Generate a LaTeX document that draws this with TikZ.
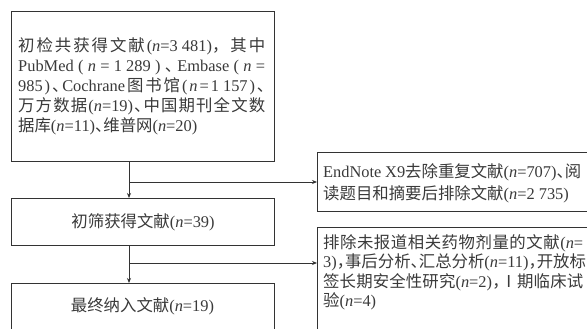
\documentclass[tikz,border=0pt]{standalone}
\usepackage{fontspec}
\setmainfont{Liberation Serif}
\newfontfamily\cjk{Noto Sans CJK SC}
\newcommand\zh[1]{{\cjk #1}}
\makeatletter
\def\zz#1{{\cjk\zz@#1\zz@end}}
\def\zz@#1{\ifx#1\zz@end\else#1\hskip0pt plus 1fil\expandafter\zz@\fi}
\makeatother
\newcommand\g{\hskip0pt plus 1fil\relax}
\newcommand\jl[2]{\hbox to #1{#2\unskip}}
\newcommand\dun{\makebox[.5em][l]{\zh{、}}}
\newcommand\dou{\makebox[.5em][l]{\zh{，}}}
\newcommand\nn{\textit{n}}
\newcommand\ts{\hspace{.25em}}
\usetikzlibrary{arrows.meta}
\definecolor{linec}{HTML}{333333}
\definecolor{textc}{HTML}{3A3A3A}
\begin{document}
\begin{tikzpicture}[x=1pt,y=-1pt,
  box/.style={draw=linec, line width=1.1pt, inner sep=0pt, anchor=north west, text=textc,
    font=\fontsize{16.4}{19}\selectfont},
  txt/.style={text=textc, inner sep=0pt, align=left, anchor=west},
  conn/.style={draw=linec, line width=1pt},
  arr/.style={conn, -{Stealth[length=5pt,width=4pt]}}]
\useasboundingbox (0,0) rectangle (587,329);
\clip (0,0) rectangle (587,329);
\fill[white] (0,0) rectangle (587,329);
% boxes
\node[box, minimum width=263pt, minimum height=150pt] (b1) at (11,11) {};
\node[box, minimum width=263pt, minimum height=47pt] (b2) at (11,198) {\zh{初筛获得文献}(\nn=39)};
\node[box, minimum width=263pt, minimum height=52pt] (b3) at (11,283) {};
\node[box, minimum width=290pt, minimum height=59pt] (b4) at (317,152) {};
\node[box, minimum width=290pt, minimum height=115pt] (b5) at (317,227) {};
% texts
\node[txt, font=\fontsize{16.4}{20}\selectfont] (t1) at (18,86) {%
\jl{247pt}{\zz{初检共获得文献}(\nn=3\ts481)\zz{，其中}}\\
\jl{247pt}{PubMed\g(\g\nn\g=\g1\ts289\g)\g\dun\g Embase\g(\g\nn\g=}\\
\jl{247pt}{985\g)\g\dun\g Cochrane\g\zz{图书馆}(\g\nn\g=\g1\ts157\g)\g\dun}\\
\jl{247pt}{\zz{万方数据}(\nn=19)\g\dun\g\zz{中国期刊全文数}}\\
\zh{据库}(\nn=11)\dun\zh{维普网}(\nn=20)};
\node[txt, anchor=center, font=\fontsize{16.4}{19}\selectfont] (t3) at (142.5,306) {\zh{最终纳入文献}(\nn=19)};
\node[txt, font=\fontsize{16.4}{22.5}\selectfont] (t4) at (323,183.5) {%
\jl{258pt}{EndNote X9\g\zz{去除重复文献}(\nn=707)\g\dun\g\zh{阅}}\\
\zh{读题目和摘要后排除文献}(\nn=2\ts735)};
\node[txt, font=\fontsize{16.4}{19.5}\selectfont] (t5) at (323,272.5) {%
\jl{260pt}{\zz{排除未报道相关药物剂量的文献}(\nn=}\\
\jl{260pt}{3)\g\dou\g\zz{事后分析}\dun\g\zz{汇总分析}(\nn=11)\g\dou\g\zz{开放标}}\\
\jl{260pt}{\zz{签长期安全性研究}(\nn=2)\g\dou\g\zz{Ⅰ期临床试}}\\
\zh{验}(\nn=4)};
% connectors
\coordinate (j1) at (129,182);
\coordinate (j2) at (129,263);
\draw[arr] (b1.south -| j1) -- (b2.north -| j1);
\draw[arr] (j1) -- (j1 -| b4.west);
\draw[arr] (b2.south -| j2) -- (b3.north -| j2);
\draw[arr] (j2) -- (j2 -| b5.west);
\end{tikzpicture}
\end{document}
